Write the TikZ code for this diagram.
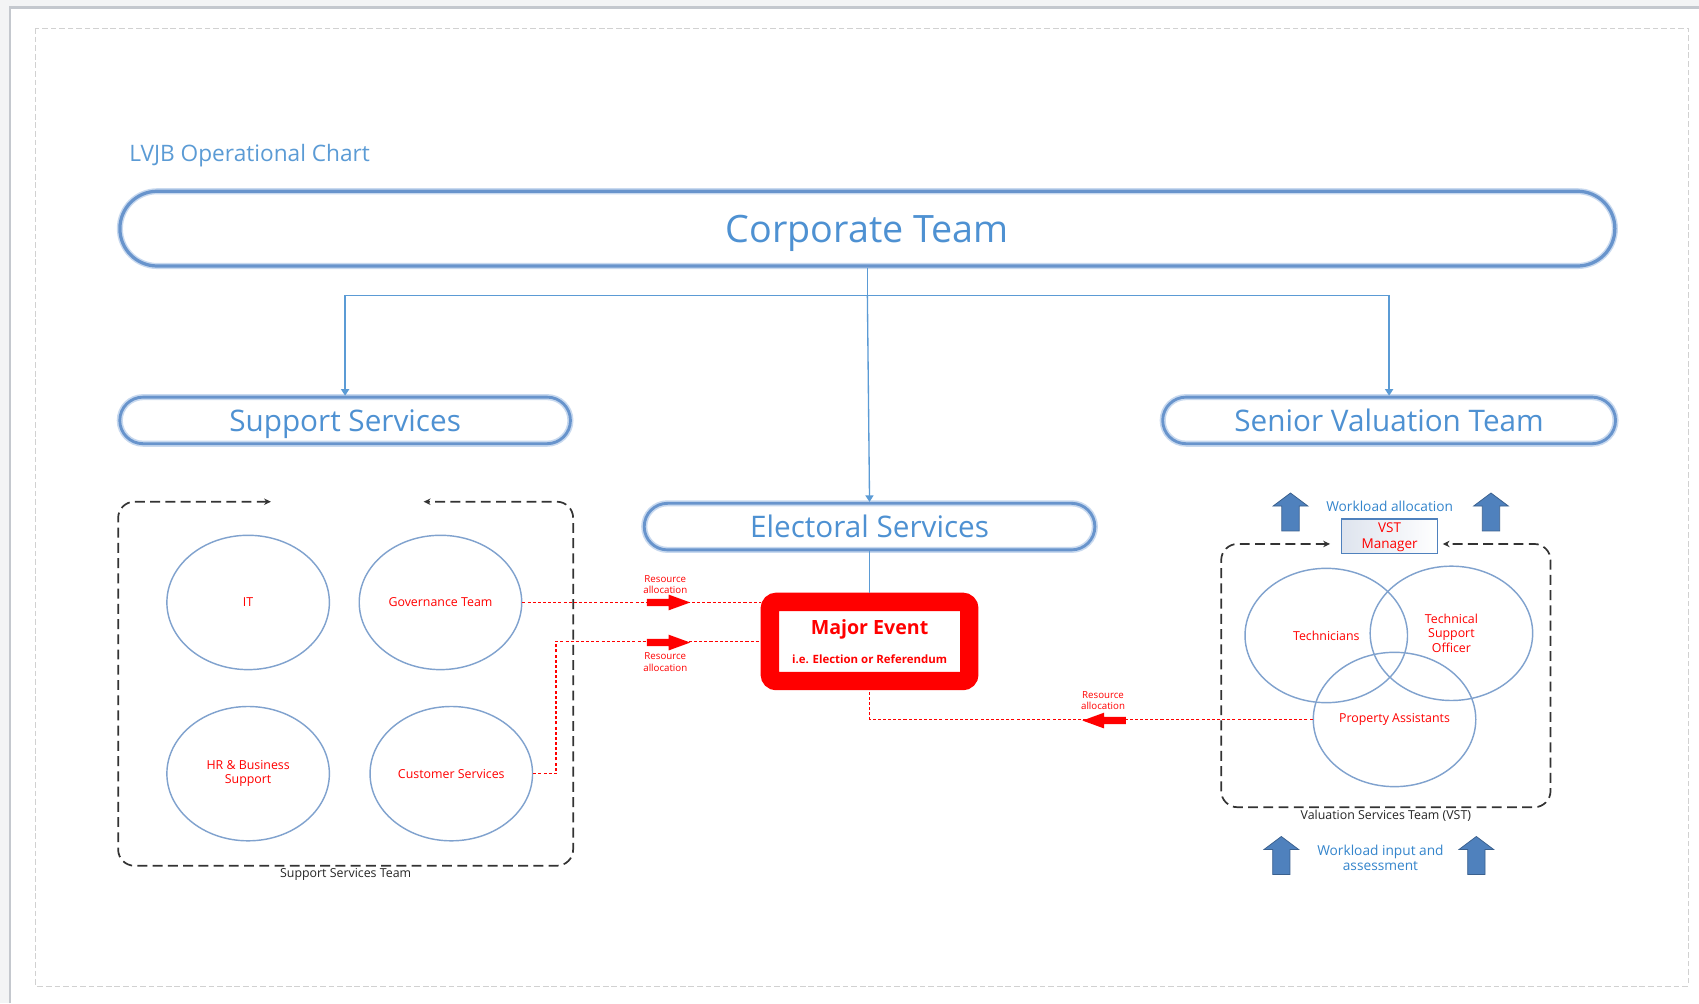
\documentclass[tikz,border=0pt]{standalone}
\usepackage{fontspec}
\setmainfont{Open Sans}
\usetikzlibrary{positioning, arrows.meta, shapes.geometric, shapes.misc, calc}
\pgfdeclarelayer{background}
\pgfsetlayers{background,main}
\definecolor{teamedge}{RGB}{104,148,204}
\definecolor{teamglow}{RGB}{200,217,239}
\definecolor{teamtext}{RGB}{78,145,210}
\definecolor{linkblue}{RGB}{91,155,213}
\definecolor{unitedge}{RGB}{128,162,206}
\definecolor{arrowblue}{RGB}{79,129,189}
\definecolor{arrowedge}{RGB}{58,96,142}
\definecolor{worktextblue}{RGB}{52,133,204}
\definecolor{fadegray}{RGB}{222,228,238}
\definecolor{pagegray}{RGB}{243,244,245}
\definecolor{pageedge}{RGB}{196,200,206}
\tikzset{
    teambox/.style={rounded rectangle, draw=teamedge, line width=1.5pt,
        preaction={draw=teamglow, line width=3.2pt}, text=teamtext,
        minimum height=0.86cm, inner sep=0pt, text height=11.2pt, text depth=0pt,
        font=\fontsize{15.6}{18}\selectfont},
    unitcircle/.style={ellipse, draw=unitedge, line width=0.75pt, minimum width=3cm,
        minimum height=2.48cm, text=red, align=center, inner sep=0pt,
        font=\fontsize{6.5}{7.5}\selectfont},
    teamlink/.style={draw=linkblue, line width=0.7pt},
    feed/.style={teamlink, -{Triangle[length=3.4pt, width=4.2pt]}},
    reslink/.style={draw=red, line width=0.6pt, dash pattern=on 1.6pt off 1.1pt},
    groupframe/.style={rectangle, draw=none, inner sep=0pt, outer sep=0pt},
    groupline/.style={draw=black!80, line width=0.9pt, dash pattern=on 5.2pt off 2.8pt,
        rounded corners=0.3cm, >={Stealth[length=3.6pt, width=3.4pt]}, <->},
    groupcaption/.style={text=black!85, inner sep=0.5pt, font=\fontsize{6.5}{7.5}\selectfont},
    mgrbox/.style={rectangle, draw=arrowblue, line width=0.6pt, left color=fadegray,
        right color=white, minimum width=1.78cm, minimum height=0.64cm, inner sep=0pt,
        text=red, align=center, font=\fontsize{7.1}{8.5}\selectfont},
    worktext/.style={text=worktextblue, inner sep=0pt, align=center,
        font=\fontsize{7.2}{8}\selectfont},
    resnote/.style={text=red, inner sep=0pt, align=center, font=\fontsize{5.1}{6.2}\selectfont},
    resarrow/.pic={
        \fill[red] (-20,-3.3) -- (0,-3.3) -- (0,-7.3) -- (20,0) -- (0,7.3) -- (0,3.3) -- (-20,3.3) -- cycle;
    },
    workarrow/.pic={
        \filldraw[fill=arrowblue, draw=arrowedge, line width=0.4pt]
            (-8,0) -- (-8,-23) -- (-16,-23) -- (0,-35) -- (16,-23) -- (8,-23) -- (8,0) -- cycle;
    },
}

\begin{document}
\begin{tikzpicture}[x=0.02cm, y=-0.02cm]
    % sheet
    \useasboundingbox (0,0) rectangle (1568,926);
    \fill[pagegray] (0,0) rectangle (1568,926);
    \fill[white] (9,7) rectangle (1568,926);
    \draw[pageedge, line width=1.2pt] (9,926) -- (9,7) -- (1568,7);
    \draw[black!18, line width=0.4pt, dash pattern=on 3pt off 1.5pt] (33,26) rectangle (1558,910);

    \node[anchor=base west, inner sep=0pt, text=linkblue, font=\fontsize{11.9}{13}\selectfont] (chart) at (119,149.5) {LVJB Operational Chart};

    % teams
    \node[teambox, minimum width=27.6cm, minimum height=1.38cm, line width=1.7pt,
        text height=14.2pt, font=\fontsize{19.8}{22}\selectfont] (corp) at (800.5,211) {Corporate Team};
    \node[teambox, minimum width=8.32cm] (support) at (318.5,388) {Support Services};
    \node[teambox, minimum width=8.36cm] (senior) at (1282,388) {Senior Valuation Team};
    \node[teambox, minimum width=8.32cm] (electoral) at (802.5,486) {Electoral Services};

    \node[draw=red, line width=0.34cm, rounded corners=0.12cm, minimum width=3.68cm,
        minimum height=1.46cm, fill=white, text=red, align=center,
        font=\fontsize{6}{15.5}\selectfont\bfseries] (major) at (802.5,592)
        {{\fontsize{10.3}{12}\selectfont Major Event}\\i.e. Election or Referendum};

    % support services team
    \node[unitcircle] (it) at (229,556) {IT};
    \node[unitcircle] (gov) at (406.5,556) {Governance Team};
    \node[unitcircle] (hr) at (229,714) {HR \& Business\\Support};
    \node[unitcircle] (cust) at (416.5,714) {Customer Services};
    \node[groupframe, minimum width=8.4cm, minimum height=6.72cm] (sstframe) at (319,631) {};
    \draw[groupline] ([xshift=-1.38cm]sstframe.north) -- (sstframe.north west) -- (sstframe.south west)
        -- (sstframe.south east) -- (sstframe.north east) -- ([xshift=1.44cm]sstframe.north);
    \node[groupcaption, below=0.8pt of sstframe] (ssttext) {Support Services Team};

    % valuation services team
    \node[unitcircle] (tech) at (1224,586.5) {Technicians};
    \node[unitcircle] (tso) at (1339.5,584.5) {Technical\\Support\\Officer};
    \node[unitcircle] (prop) at (1287,664) {Property Assistants};
    \node[groupframe, minimum width=6.08cm, minimum height=4.86cm] (vstframe) at (1279,623.5) {};
    \node[mgrbox, text depth=1.2pt] (vstmgr) at (1282.5,495) {VST\\Manager};
    \draw[groupline] ([xshift=-0.2cm]vstmgr.west |- vstframe.north) -- (vstframe.north west)
        -- (vstframe.south west) -- (vstframe.south east) -- (vstframe.north east)
        -- ([xshift=0.08cm]vstmgr.east |- vstframe.north);
    \node[groupcaption, below=0.8pt of vstframe] (vsttext) {Valuation Services Team (VST)};
    \node[worktext, above=3.5pt of vstmgr] (alloc) {Workload allocation};
    \node[worktext] (input) at (1274,791.5) {Workload input and\\assessment};
    \pic at (1191,490) {workarrow};
    \pic at (1376,490) {workarrow};
    \pic at (1182.5,807) {workarrow};
    \pic at (1362.5,807) {workarrow};

    % reporting lines
    \coordinate (hub) at ($(corp.south)+(0,26)$);
    \draw[teamlink] (corp.south) -- (hub);
    \draw[feed] (hub) -| (support.north);
    \draw[feed] (hub) -| (senior.north);
    \draw[feed] (hub) -- (electoral.north);
    \draw[teamlink] (electoral.south) -- (major.north);

    % resource allocation
    \node[resnote] (note1) at (614,539.5) {Resource\\allocation};
    \node[resnote] (note2) at (614,611) {Resource\\allocation};
    \node[resnote] (note3) at (1018,646.5) {Resource\\allocation};
    \begin{pgfonlayer}{background}
        \foreach \n in {note1,note2,note3}
            \shade[left color=fadegray, right color=white] ($(\n.west)+(-22,-7.5)$) rectangle ($(\n.west)+(1,7.5)$);
    \end{pgfonlayer}
    \draw[reslink] (gov.east) -- (gov.east -| major.west);
    \draw[reslink] (cust.east) -- ++(21,0) |- (major.west);
    \draw[reslink] (prop.west) -| (major.south);
    \pic at (617,556) {resarrow};
    \pic at (617,593) {resarrow};
    \pic[rotate=180] at (1019,665) {resarrow};
\end{tikzpicture}
\end{document}
